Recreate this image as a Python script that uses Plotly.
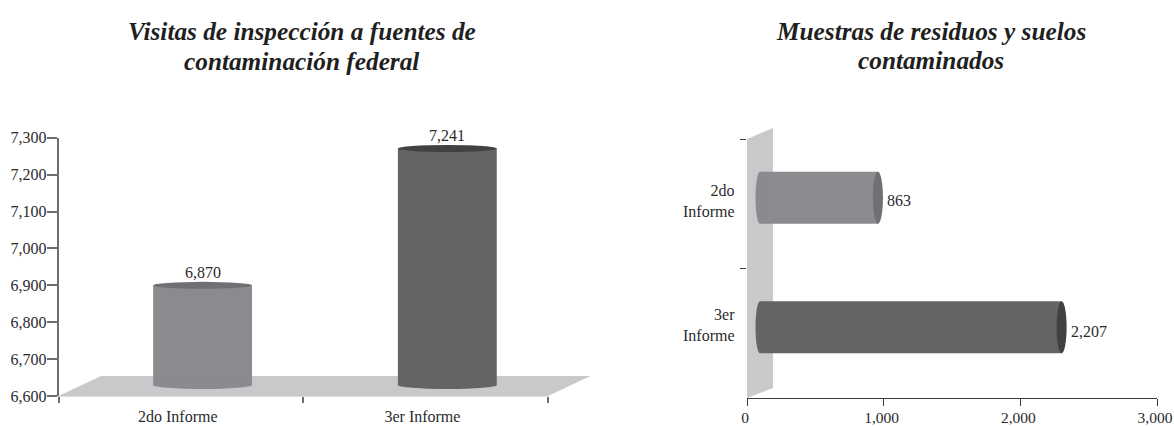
import plotly.graph_objects as go

# values
informes = ["2do Informe", "3er Informe"]
informes_wrapped = ["2do<br>Informe", "3er<br>Informe"]
visitas = [6870, 7241]
muestras = [863, 2207]
visitas_ticks = [6600, 6700, 6800, 6900, 7000, 7100, 7200, 7300]
muestras_ticks = [0, 1000, 2000, 3000]
titulo_visitas = ["Visitas de inspección a fuentes de", "contaminación federal"]
titulo_muestras = ["Muestras de residuos y suelos", "contaminados"]

W, H = 1174, 426
SERIF = "Liberation Serif"
BAR_COLORS = ["#8a8b8e", "#636466"]
CAP_COLORS = ["#6f7073", "#404142"]
FLOOR = "#c8c9cb"
AXIS = "#6d6e71"
TEXT = "#2b2b2d"

# pixels per data unit, used to pad the overlay axes so base ellipses are not clipped
Y_SCALE = (396 - 137.7) / (visitas_ticks[-1] - visitas_ticks[0])
X_SCALE = (1157 - 747) / (muestras_ticks[-1] - muestras_ticks[0])
Y_PAD = 100
X_PAD = 100


def xdom(a, b):
    return [a / W, b / W]


def ydom(top, bottom):
    return [1 - bottom / H, 1 - top / H]


def poly(points):
    path = " ".join(
        ("M" if i == 0 else "L") + f"{x / W:.5f},{1 - y / H:.5f}" for i, (x, y) in enumerate(points)
    )
    return dict(type="path", xref="paper", yref="paper", path=path + " Z",
                fillcolor=FLOOR, line_width=0, layer="below")


def cap(xref, yref, xv, yv, rx, ry, color):
    return dict(type="circle", xref=xref, yref=yref, xsizemode="pixel", ysizemode="pixel",
                xanchor=xv, yanchor=yv, x0=-rx, x1=rx, y0=-ry, y1=ry,
                fillcolor=color, line_width=0, layer="above")


fig = go.Figure()

# empty traces so the visible axes get drawn
fig.add_trace(go.Scatter(x=informes, y=visitas, mode="none", xaxis="x", yaxis="y", hoverinfo="skip"))
fig.add_trace(go.Scatter(x=muestras, y=informes, mode="none", xaxis="x2", yaxis="y2", hoverinfo="skip"))

# the "3d" bars sit on overlay axes shifted by the depth offset
fig.add_trace(go.Bar(x=informes, y=[v - visitas_ticks[0] for v in visitas], base=visitas_ticks[0],
                     xaxis="x3", yaxis="y3", width=0.404,
                     marker=dict(color=BAR_COLORS, line_width=0), hoverinfo="x+y"))
fig.add_trace(go.Bar(y=informes, x=muestras, orientation="h", xaxis="x4", yaxis="y4", width=0.4,
                     marker=dict(color=BAR_COLORS, line_width=0), hoverinfo="x+y"))

shapes = [
    poly([(58.5, 396), (548, 396), (590.5, 376), (101, 376)]),
    poly([(747, 398), (747, 139), (773, 128), (773, 388)]),
]
for i, cat in enumerate(informes):
    shapes.append(cap("x3", "y3", cat, visitas_ticks[0], 49.5, 4, BAR_COLORS[i]))
    shapes.append(cap("x3", "y3", cat, visitas[i], 49.5, 3.5, CAP_COLORS[i]))
    shapes.append(cap("x4", "y4", muestras_ticks[0], cat, 4.5, 26, BAR_COLORS[i]))
    shapes.append(cap("x4", "y4", muestras[i], cat, 5, 26, CAP_COLORS[i]))

title_font = dict(family=SERIF, size=25.3, color="#1f1f21", weight="bold", style="italic")
label_font = dict(family=SERIF, size=16, color=TEXT)
annotations = []
# title lines are set separately, the original leading is tighter than plotly's <br>
for lines, cx, ys in [(titulo_visitas, 301.5, (31, 60.5)), (titulo_muestras, 930.5, (31, 60))]:
    for line, cy in zip(lines, ys):
        annotations.append(dict(xref="paper", yref="paper", x=cx / W, y=1 - cy / H, xanchor="center",
                                yanchor="middle", text=line, showarrow=False, font=title_font))
for i, cat in enumerate(informes):
    annotations.append(dict(xref="x3", yref="y3", x=cat, y=visitas[i], text=f"{visitas[i]:,}",
                            showarrow=False, yanchor="bottom", yshift=2, font=label_font))
    annotations.append(dict(xref="x4", yref="y4", x=muestras[i], y=cat, text=f"{muestras[i]:,}",
                            showarrow=False, xanchor="left", xshift=7, yshift=-3 - i, font=label_font))
    # category labels of the right chart do not sit on the slot centres in the original
    annotations.append(dict(xref="paper", yref="y4", x=736.5 / W, y=cat, text=informes_wrapped[i],
                            showarrow=False, xanchor="right", align="right", yshift=-3 + 5 * i,
                            font=label_font))

tick_font = dict(family=SERIF, size=16, color=TEXT)

fig.update_layout(
    width=W, height=H, margin=dict(l=0, r=0, t=0, b=0, pad=0),
    paper_bgcolor="white", plot_bgcolor="rgba(0,0,0,0)",
    showlegend=False, shapes=shapes, annotations=annotations,
    # left chart
    xaxis=dict(domain=xdom(58.5, 548), anchor="y", type="category", categoryorder="array",
               categoryarray=informes, range=[-0.5, 1.501], tickson="boundaries", ticks="outside",
               ticklen=6, tickcolor=AXIS, tickwidth=1.5, showline=True, linecolor="#dcdcde",
               linewidth=1, showgrid=False, tickfont=tick_font, automargin=False,
               ticklabelstandoff=6, ticklabelshift=-3),
    yaxis=dict(domain=ydom(137.7, 396), anchor="x", range=[visitas_ticks[0], visitas_ticks[-1]],
               tickvals=visitas_ticks, tickformat=",", ticks="outside", ticklen=10, tickcolor=AXIS,
               tickwidth=1.5, showline=True, linecolor=AXIS, linewidth=1.5, showgrid=False,
               zeroline=False, tickfont=tick_font, automargin=False, ticklabelstandoff=-3),
    xaxis3=dict(domain=xdom(58.5 + 21.7, 548 + 21.7), anchor="y3", type="category",
                categoryorder="array", categoryarray=informes, range=[-0.5, 1.5], visible=False,
                automargin=False),
    yaxis3=dict(domain=ydom(137.7 - 11, 396 - 11 + Y_PAD * Y_SCALE), anchor="x3",
                range=[visitas_ticks[0] - Y_PAD, visitas_ticks[-1]], visible=False, automargin=False),
    # right chart
    xaxis2=dict(domain=xdom(747, 1157), anchor="y2", range=[muestras_ticks[0], muestras_ticks[-1]],
                tickvals=muestras_ticks, tickformat=",", ticks="outside", ticklen=7, tickcolor="#3a3a3c",
                tickwidth=1, showline=True, linecolor="#3a3a3c", linewidth=1, showgrid=False,
                zeroline=False, tickfont=dict(family=SERIF, size=15.5, color=TEXT), automargin=False,
                ticklabelshift=-2, ticklabelstandoff=-2),
    yaxis2=dict(domain=ydom(139, 398), anchor="x2", type="category", categoryorder="array",
                categoryarray=informes, range=[1.501, -0.5], tickson="boundaries", ticks="outside",
                ticklen=6, tickcolor="#3a3a3c", tickwidth=1, showline=False, showgrid=False,
                showticklabels=False, automargin=False),
    xaxis4=dict(domain=xdom(747 + 13 - X_PAD * X_SCALE, 1157 + 13), anchor="y4",
                range=[muestras_ticks[0] - X_PAD, muestras_ticks[-1]], visible=False, automargin=False),
    yaxis4=dict(domain=ydom(139 - 6, 398 - 6), anchor="x4", type="category",
                categoryorder="array", categoryarray=informes, range=[1.5, -0.5],
                visible=False, automargin=False),
)

fig.write_html("out.html", config={"displayModeBar": False},
               post_script="document.body.style.margin = '0';")
